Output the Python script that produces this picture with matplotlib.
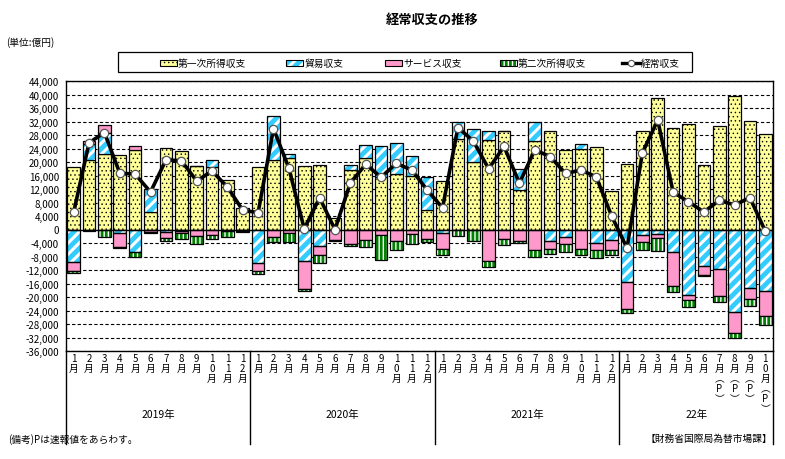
import matplotlib
matplotlib.use('Agg')
import matplotlib.pyplot as plt
import matplotlib.transforms as mtransforms
from matplotlib.patches import Rectangle
from matplotlib.lines import Line2D
import numpy as np

plt.rcParams['font.family'] = ['Noto Sans CJK JP', 'DejaVu Sans']
plt.rcParams['hatch.linewidth'] = 1.6

# ---------------- data (億円) ----------------
month_nums = [1, 2, 3, 4, 5, 6, 7, 8, 9, 10, 11, 12] * 3 + [1, 2, 3, 4, 5, 6, 7, 8, 9, 10]
prelim_flags = [False] * 42 + [True] * 4
year_labels = ['2019年', '2020年', '2021年', '22年']
year_counts = [12, 12, 12, 10]

primary = [18500, 20500, 22400, 22200, 23500, 5100, 24100, 23300, 18800, 18500, 14700, 6300,
           18500, 20600, 21200, 18800, 19100, 3500, 17600, 21200, 15500, 16300, 15800, 5900,
           14400, 26900, 20000, 26500, 29200, 11700, 26200, 29200, 23600, 24000, 24500, 11400,
           19300, 29200, 38900, 30000, 31200, 19000, 30700, 39600, 32100, 28200]
trade = [-9700, 4900, 6300, -1100, -6600, 7000, -700, -300, 0, 2000, -400, -200,
         -9900, 13100, 1100, -9400, -5000, -100, 1400, 3800, 9100, 9200, 6100, 9600,
         -1000, 5100, 9700, 2700, 0, 6100, 5800, -3500, -2200, 1300, -4000, -3200,
         -15600, -1500, -1200, -6800, -19300, -10900, -11700, -24500, -17300, -18300]
services = [-2500, 800, 2200, -4200, 1300, -700, -1900, -800, -2000, -1700, -100, -100,
            -2500, -2300, -1100, -8100, -2700, -3000, -4200, -3000, -1700, -3500, -1400, -2700,
            -4700, -200, -200, -9400, -2700, -3300, -6100, -2200, -2100, -5800, -2200, -3000,
            -8100, -2200, -1300, -9800, -1700, -2700, -8100, -6300, -3400, -7400]
secondary = [-700, -500, -2300, -200, -1500, -300, -900, -1700, -2400, -1200, -1600, -300,
             -800, -1500, -2700, -800, -2100, -400, -800, -2300, -7200, -2500, -2800, -1100,
             -1900, -1800, -3300, -1800, -2000, -800, -2100, -1600, -2400, -1700, -2300, -1300,
             -1100, -2500, -4000, -1900, -2100, -200, -1800, -1300, -2100, -2700]
current = [5100, 25700, 28700, 16700, 16400, 11100, 20600, 20400, 14400, 17300, 12600, 5700,
           5000, 29900, 18200, 200, 9400, 0, 13800, 19300, 15500, 19600, 17600, 11700,
           6400, 30200, 26200, 18000, 24600, 13700, 23600, 21600, 16600, 17600, 15600, 4000,
           -5500, 22700, 32400, 11100, 8200, 5200, 8600, 7300, 9400, -500]

series_names = ['第一次所得収支', '貿易収支', 'サービス収支', '第二次所得収支']
line_name = '経常収支'
yticks = list(range(-36000, 44001, 4000))

# ---------------- styles ----------------
YEL = '#FFFF99'
BLUE = '#33CCFF'
PINK = '#FF99CC'
GREEN = '#008000'

W, H = 785, 460
fig = plt.figure(figsize=(W / 100, H / 100), dpi=100)
ax = fig.add_axes([66 / W, 1 - 352 / H, 707 / W, 270 / H])

x = np.arange(len(primary))
ax.set_xlim(-0.5, len(primary) - 0.5)
ax.set_ylim(-36000, 44000)

for t in yticks:
    if t == 0:
        continue
    ax.axhline(t, color='black', lw=0.8, ls=(0, (3, 2)), zorder=1)

bw = 0.82
pos_base = np.zeros(len(x))
neg_base = np.zeros(len(x))


def set_hlw(patches, lw):
    for b in patches:
        if hasattr(b, 'set_hatch_linewidth'):
            b.set_hatch_linewidth(lw)


def draw_series(vals, kind):
    global pos_base, neg_base
    vals = np.array(vals, dtype=float)
    bottoms = np.where(vals >= 0, pos_base, neg_base)
    if kind == 'yellow':
        with plt.rc_context({'hatch.linewidth': 0.5}):
            bars = ax.bar(x, vals, bw, bottom=bottoms, facecolor=YEL, edgecolor='black',
                          hatch='....', lw=0.9, zorder=3)
        set_hlw(bars, 0.5)
    elif kind == 'blue':
        with plt.rc_context({'hatch.linewidth': 2.2}):
            bars = ax.bar(x, vals, bw, bottom=bottoms, facecolor=BLUE, edgecolor='white',
                          hatch='///', lw=0, zorder=3)
        set_hlw(bars, 2.2)
        ax.bar(x, vals, bw, bottom=bottoms, facecolor='none', edgecolor='black',
               lw=0.9, zorder=3.5)
    elif kind == 'pink':
        ax.bar(x, vals, bw, bottom=bottoms, facecolor=PINK, edgecolor='black',
               lw=0.9, zorder=3)
    elif kind == 'green':
        with plt.rc_context({'hatch.linewidth': 2.0}):
            bars = ax.bar(x, vals, bw, bottom=bottoms, facecolor='white', edgecolor=GREEN,
                          hatch='||||', lw=0, zorder=3)
        set_hlw(bars, 2.0)
        ax.bar(x, vals, bw, bottom=bottoms, facecolor='none', edgecolor='black',
               lw=0.9, zorder=3.5)
    pos_base = pos_base + np.where(vals >= 0, vals, 0)
    neg_base = neg_base + np.where(vals < 0, vals, 0)


draw_series(primary, 'yellow')
draw_series(trade, 'blue')
draw_series(services, 'pink')
draw_series(secondary, 'green')

ax.axhline(0, color='black', lw=1.0, zorder=4)
ax.plot(x, current, color='black', lw=2.6, zorder=5,
        marker='o', markersize=6, markerfacecolor='white', markeredgecolor='#555555',
        markeredgewidth=0.9)

ax.set_yticks(yticks)
ax.set_yticklabels([f'{t:,}' for t in yticks], fontsize=7)
ax.set_xticks([])
ax.tick_params(axis='y', length=0, pad=5)
for s in ax.spines.values():
    s.set_linewidth(1.0)
    s.set_color('black')

# ---------------- x-axis labels ----------------
trans = mtransforms.blended_transform_factory(ax.transData, ax.transAxes)
ybot = -(445 - 352) / 270
for i, (m, p) in enumerate(zip(month_nums, prelim_flags)):
    lab = '\n'.join(list(str(m))) + '\n月'
    if p:
        lab += '\n︵\nP\n︶'
    ax.text(i, -0.008, lab, transform=trans, ha='center', va='top', fontsize=7,
            linespacing=1.0, clip_on=False)

start = 0
edges = [-0.5]
for lab, c in zip(year_labels, year_counts):
    mid = start + (c - 1) / 2
    ax.text(mid, -(415 - 352) / 270, lab, transform=trans, ha='center', va='center',
            fontsize=7.5, clip_on=False)
    start += c
    edges.append(start - 0.5)
for e in edges:
    ax.add_line(Line2D([e, e], [0, ybot], transform=trans, color='black', lw=1.0,
                       clip_on=False))

# ---------------- titles / notes ----------------
fig.text(432 / W, 1 - 20 / H, '経常収支の推移', ha='center', va='center', fontsize=9.5,
         fontweight='bold')
fig.text(6 / W, 1 - 43 / H, '(単位:億円)', ha='left', va='center', fontsize=7)
fig.text(8 / W, 1 - 440 / H, '(備考)Pは速報値をあらわす。', ha='left', va='center', fontsize=7)
fig.text(772 / W, 1 - 439 / H, '【財務省国際局為替市場課】', ha='right', va='center', fontsize=7)

# ---------------- legend (manual) ----------------
def fx(px):
    return px / W


def fy(py):
    return 1 - py / H


fig.add_artist(Rectangle((fx(118), fy(73)), fx(692) - fx(118), fy(53) - fy(73),
                         transform=fig.transFigure, facecolor='white', edgecolor='black',
                         lw=0.9))
ly = 63.5
hx = [160, 286, 385, 500]
for name, hx0, kind in zip(series_names, hx, ['yellow', 'blue', 'pink', 'green']):
    rect_args = dict(transform=fig.transFigure)
    xy = (fx(hx0), fy(ly + 3))
    wdt = fx(hx0 + 17) - fx(hx0)
    hgt = fy(ly - 3) - fy(ly + 3)
    if kind == 'yellow':
        with plt.rc_context({'hatch.linewidth': 0.5}):
            r = Rectangle(xy, wdt, hgt, facecolor=YEL, edgecolor='black', hatch='....',
                          lw=0.8, **rect_args)
        set_hlw([r], 0.5)
        fig.add_artist(r)
    elif kind == 'blue':
        with plt.rc_context({'hatch.linewidth': 2.2}):
            r = Rectangle(xy, wdt, hgt, facecolor=BLUE, edgecolor='white', hatch='///', lw=0,
                          **rect_args)
        set_hlw([r], 2.2)
        fig.add_artist(r)
        fig.add_artist(Rectangle(xy, wdt, hgt, facecolor='none', edgecolor='black', lw=0.8,
                                 **rect_args))
    elif kind == 'pink':
        fig.add_artist(Rectangle(xy, wdt, hgt, facecolor=PINK, edgecolor='black', lw=0.8,
                                 **rect_args))
    else:
        with plt.rc_context({'hatch.linewidth': 2.0}):
            r = Rectangle(xy, wdt, hgt, facecolor='white', edgecolor=GREEN,
                          hatch='||||', lw=0, **rect_args)
        set_hlw([r], 2.0)
        fig.add_artist(r)
        fig.add_artist(Rectangle(xy, wdt, hgt, facecolor='none', edgecolor='black', lw=0.8,
                                 **rect_args))
    fig.text(fx(hx0 + 18), fy(ly), name, ha='left', va='center', fontsize=7)

fig.add_artist(Line2D([fx(622), fx(640)], [fy(ly), fy(ly)], transform=fig.transFigure,
                      color='black', lw=2.4))
fig.add_artist(Line2D([fx(631)], [fy(ly)], transform=fig.transFigure, marker='o',
                      markersize=4.5, markerfacecolor='white', markeredgecolor='#555555',
                      markeredgewidth=0.8, color='black'))
fig.text(fx(641), fy(ly), line_name, ha='left', va='center', fontsize=7)

fig.savefig('out.png', dpi=100)
